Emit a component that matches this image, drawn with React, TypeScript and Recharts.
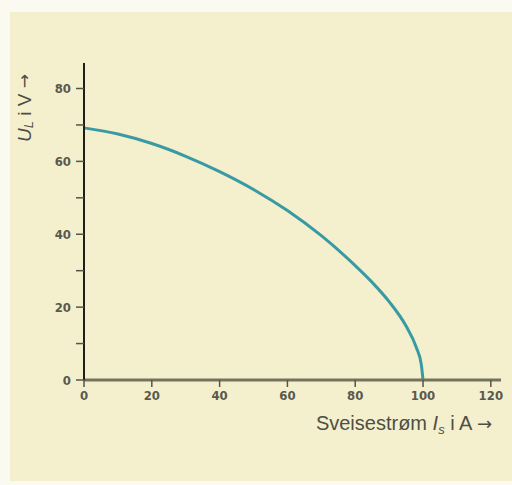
import React from 'react';
import { LineChart, Line, XAxis, YAxis, Label } from 'recharts';

const currentA = [0, 10, 20, 30, 40, 50, 60, 70, 80, 85, 90, 95, 98, 99.5, 100];
const voltageV = [69.2, 67.5, 64.9, 61.4, 57.2, 52.3, 46.5, 39.6, 31.4, 26.8, 21.5, 14.8, 9.0, 4.2, 0];
const xTicks = [0, 20, 40, 60, 80, 100, 120];
const yTicks = [0, 10, 20, 30, 40, 50, 60, 70, 80];
const yTickLabels = ['0', '', '20', '', '40', '', '60', '', '80'];

const data = currentA.map((I, i) => ({ I, U: voltageV[i] }));

const tickFont = {
  fontFamily: "'DejaVu Sans Condensed', 'Liberation Sans Narrow', sans-serif",
  fontWeight: 700,
  fontSize: 13,
  fill: '#5a594e',
};
const labelFont = "'Liberation Sans', 'DejaVu Sans', sans-serif";

const XLabel = (props: any) => {
  const vb = props.viewBox || { x: 0, y: 0, width: 0, height: 0 };
  return (
    <text
      x={vb.x + vb.width - 9}
      y={vb.y + 50}
      textAnchor="end"
      fontFamily={labelFont}
      fontSize={20}
      fill="#4f4e45"
    >
      Sveisestrøm{' '}
      <tspan fontStyle="italic">I</tspan>
      <tspan fontStyle="italic" fontSize={13} dy={4}>s</tspan>
      <tspan dy={-4}> i A </tspan>
      <tspan fontFamily="'DejaVu Sans', sans-serif" fontSize={18}>→</tspan>
    </text>
  );
};

const YLabel = (props: any) => {
  const vb = props.viewBox || { x: 0, y: 0, width: 0, height: 0 };
  const cx = vb.x;
  const cy = vb.y + 45;
  return (
    <text
      x={cx}
      y={cy}
      transform={`rotate(-90, ${cx}, ${cy})`}
      textAnchor="middle"
      dominantBaseline="central"
      fontFamily={labelFont}
      fontSize={19}
      fill="#4f4e45"
    >
      <tspan fontStyle="italic">U</tspan>
      <tspan fontStyle="italic" fontSize={13} dy={4}>L</tspan>
      <tspan dy={-4}> i V </tspan>
      <tspan fontFamily="'DejaVu Sans', sans-serif" fontSize={17}>→</tspan>
    </text>
  );
};

export default function App() {
  return (
    <div style={{ position: 'absolute', left: 0, top: 0, width: 512, height: 485, background: '#fbfaf1', overflow: 'hidden' }}>
      <div style={{ position: 'absolute', left: 10, top: 12, right: 0, bottom: 4, background: '#f4f0cd' }} />
      <div style={{ position: 'absolute', left: 0, top: 0 }}>
        <LineChart width={512} height={485} data={data} margin={{ top: 63, right: 11, left: 24, bottom: 55 }}>
          <XAxis
            type="number"
            dataKey="I"
            domain={[0, 123]}
            ticks={xTicks}
            interval={0}
            height={50}
            axisLine={{ stroke: '#75735f', strokeWidth: 3 }}
            tickLine={{ stroke: '#55544a', strokeWidth: 1.5 }}
            tickSize={7}
            tick={tickFont}
            tickMargin={4}
          >
            <Label content={<XLabel />} />
          </XAxis>
          <YAxis
            type="number"
            domain={[0, 87]}
            ticks={yTicks}
            interval={0}
            width={60}
            tickFormatter={(v: number) => yTickLabels[yTicks.indexOf(v)] ?? ''}
            axisLine={{ stroke: '#1f1f1a', strokeWidth: 2 }}
            tickLine={{ stroke: '#55544a', strokeWidth: 1.5 }}
            tickSize={8}
            tick={tickFont}
            tickMargin={5}
          >
            <Label content={<YLabel />} />
          </YAxis>
          <Line
            type="monotone"
            dataKey="U"
            stroke="#3a9aa3"
            strokeWidth={3}
            dot={false}
            isAnimationActive={false}
          />
        </LineChart>
      </div>
    </div>
  );
}
